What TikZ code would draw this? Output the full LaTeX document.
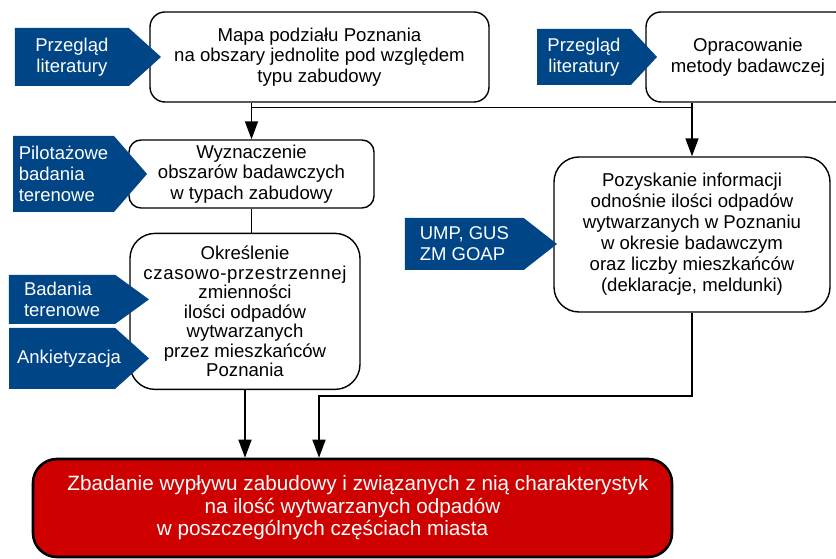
\documentclass[tikz,border=0pt]{standalone}
\usepackage{fontspec}
\setmainfont{Liberation Sans}
\usetikzlibrary{positioning,arrows.meta,shapes,shapes.arrows,calc}
\definecolor{poblue}{RGB}{0,69,134}
\definecolor{pored}{RGB}{206,0,0}
\tikzstyle{wbox}=[rectangle, rounded corners=15pt, draw=black, fill=white, line width=1.4pt,
                  inner sep=0pt, align=center, font=\fontsize{18.6}{20.5}\selectfont]
\tikzstyle{rbox}=[wbox, fill=pored, text=white, line width=2.6pt, rounded corners=24pt]
\tikzstyle{inarrow}=[single arrow, single arrow head extend=0pt, fill=poblue, draw=none,
                     text=white, inner sep=2pt, align=left,
                     font=\fontsize{18.5}{21}\selectfont]
\tikzstyle{pline}=[-, line width=1.6pt]
\tikzstyle{parrow}=[pline, -{Triangle[length=18pt,width=13pt]}]

\begin{document}
\begin{tikzpicture}[x=1pt,y=1pt]
\useasboundingbox (0,0) rectangle (836,559);

% main boxes
\node (MAPA) [wbox, minimum width=339pt, minimum height=90pt] at (319.5,502)
 {Mapa podziału Poznania\\na obszary jednolite pod względem\\typu zabudowy};
\node (OPR) [wbox, minimum width=204pt, minimum height=90pt] at (748,502)
 {Opracowanie\\metody badawczej};
\node (WYZ) [wbox, rounded corners=12pt, minimum width=245pt, minimum height=68pt] at (251.5,385)
 {Wyznaczenie\\obszarów badawczych\\w typach zabudowy};
\node (OKR) [wbox, rounded corners=25pt, minimum width=230pt, minimum height=156pt,
 font=\fontsize{18.6}{19.5}\selectfont, below=24pt of WYZ, xshift=-6.5pt]
 {Określenie\\{\addfontfeature{LetterSpace=3.5}czasowo-przestrzennej}\\zmienności\\ilości odpadów\\wytwarzanych\\przez mieszkańców\\Poznania};
\node (POZ) [wbox, rounded corners=25pt, minimum width=276pt, minimum height=155pt,
 font=\fontsize{18.6}{21}\selectfont] at (692,324.5)
 {Pozyskanie informacji\\odnośnie ilości odpadów\\wytwarzanych w Poznaniu\\w okresie badawczym\\oraz liczby mieszkańców\\(deklaracje, meldunki)};
\node (RED) [rbox, minimum width=639pt, minimum height=98pt,
 font=\fontsize{20.7}{22.5}\selectfont] at (352.5,51)
 {\hspace*{11pt}Zbadanie wypływu zabudowy i związanych z nią charakterystyk\\na ilość wytwarzanych odpadów\hspace*{16pt}\\w poszczególnych częściach miasta\hspace*{60pt}};

% inputs
\node (PRZA) [inarrow, align=center, minimum height=146pt, minimum width=58pt,
 single arrow tip angle=84, left=-12pt of MAPA] {Przegląd\\literatury};
\node (PIL) [inarrow, minimum height=134pt, minimum width=76pt,
 single arrow tip angle=98, left=-19pt of WYZ] {Pilotażowe\\badania\\terenowe};
\node (BAD) [inarrow, minimum height=140pt, minimum width=49pt,
 single arrow tip angle=72, left=-20pt of OKR, yshift=12pt] {Badania\\terenowe};
\node (ANK) [inarrow, minimum height=140pt, minimum width=61pt,
 single arrow tip angle=84, left=-20pt of OKR, yshift=-47pt] {\makebox[90pt][l]{Ankietyzacja}};
\node (PRZB) [inarrow, align=center, minimum height=120pt, minimum width=56pt,
 single arrow tip angle=94, left=-12pt of OPR] {Przegląd\\literatury};
\node (UMP) [inarrow, minimum height=152pt, minimum width=52pt,
 single arrow tip angle=76, left=-4pt of POZ, yshift=-9.5pt] {UMP, GUS\\ZM GOAP};

% connectors
\draw[parrow] (MAPA.south -| WYZ.north) -- (WYZ.north);
\draw[parrow] (OPR.south -| POZ.north) -- (POZ.north);
\draw[pline] ($(MAPA.south -| WYZ.north)+(0,-5)$) -- ($(OPR.south -| POZ.north)+(0,-5)$);
\draw[pline] (WYZ.south) -- (WYZ.south |- OKR.north);
\draw[parrow] (OKR.south) -- (OKR.south |- RED.north);
\coordinate (JOIN) at (319,163);
\draw[parrow] (POZ.south) |- (JOIN) -- (JOIN |- RED.north);

\end{tikzpicture}
\end{document}
